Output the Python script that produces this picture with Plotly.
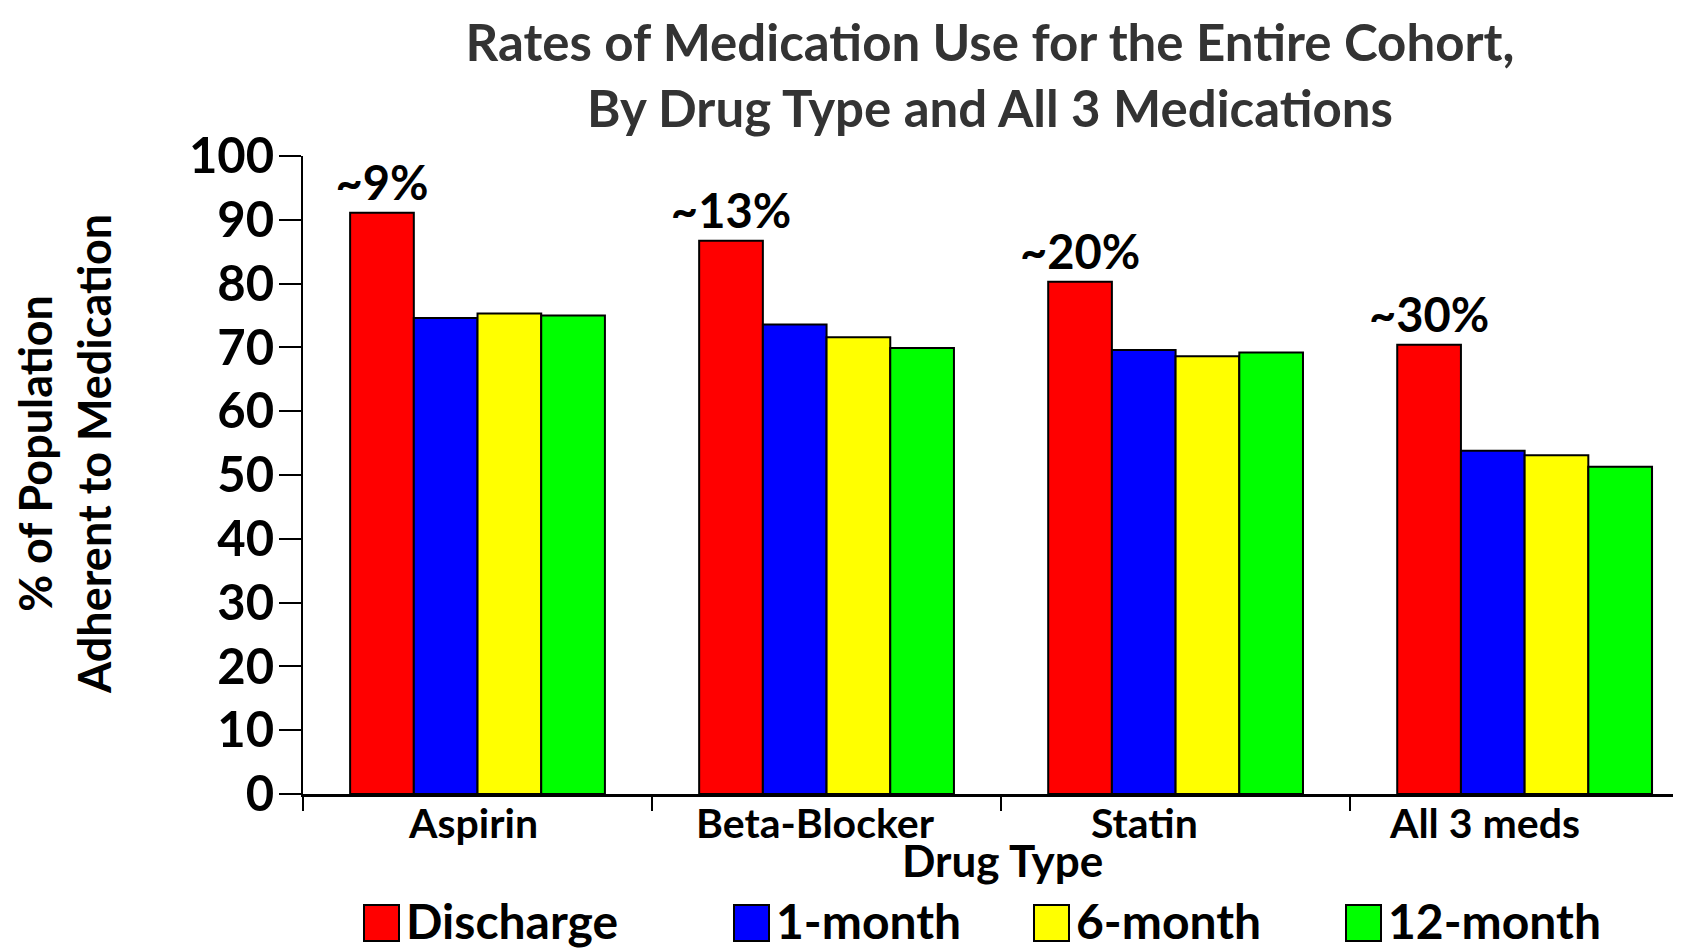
import plotly.graph_objects as go

# ── Data ─────────────────────────────────────────────────────
categories = ["Aspirin", "Beta-Blocker", "Statin", "All 3 meds"]
discharge = [91.1, 86.7, 80.3, 70.4]
month_1 = [74.6, 73.6, 69.6, 53.8]
month_6 = [75.3, 71.6, 68.6, 53.1]
month_12 = [75.0, 69.9, 69.2, 51.3]
drop_labels = ["~9%", "~13%", "~20%", "~30%"]
series_names = ["Discharge", "1-month", "6-month", "12-month"]
y_ticks = list(range(0, 101, 10))

colors = ["#ff0000", "#0000ff", "#ffff00", "#00ff00"]
FONT = "Lato, 'Open Sans', sans-serif"

# the page has an 8px body margin; positions below are page pixels
OFF = 8
W, H = 1681 - OFF, 950 - OFF
L, R, T, B = 303 - OFF, 1681 - OFF, 156 - OFF, 794 - OFF


def px_x(x):
    return (x - OFF - L) / (R - L)


def px_y(y):
    return (B - (y - OFF)) / (B - T)


fig = go.Figure()
for name, vals, col in zip(series_names, [discharge, month_1, month_6, month_12], colors):
    is_first = name == series_names[0]
    fig.add_trace(go.Bar(
        x=categories, y=vals, name=name,
        marker=dict(color=col, line=dict(color="black", width=2)),
        text=drop_labels if is_first else None,
        textposition="outside" if is_first else "none",
        textfont=dict(family=FONT, size=47, color="black", weight="bold"),
        constraintext="none",
        cliponaxis=False,
        showlegend=False,
    ))

shapes = []
annotations = []

# category labels (the original sits them a little left of centre)
label_shift = [-5, -11, -31, -40]
for cat, dx in zip(categories, label_shift):
    annotations.append(dict(
        text=cat, x=cat, xref="x", yref="paper", y=px_y(822),
        xshift=dx, xanchor="center", yanchor="middle", showarrow=False,
        font=dict(family=FONT, size=41, color="black", weight="bold"),
    ))

# ── Manual legend with large swatches ────────────────────────
legend_left = [364, 734, 1034, 1346]
for name, col, x0 in zip(series_names, colors, legend_left):
    shapes.append(dict(
        type="rect", xref="paper", yref="paper",
        x0=px_x(x0), x1=px_x(x0 + 35), y0=px_y(941), y1=px_y(905),
        fillcolor=col, line=dict(color="black", width=2),
    ))
    annotations.append(dict(
        text=name, xref="paper", yref="paper",
        x=px_x(x0 + 40), y=px_y(920), xanchor="left", yanchor="middle",
        showarrow=False, font=dict(family=FONT, size=48, color="black", weight="bold"),
    ))

# axis titles
annotations.append(dict(
    text="Drug Type", xref="paper", yref="paper",
    x=px_x(1002), y=px_y(860), xanchor="center", yanchor="middle",
    showarrow=False, font=dict(family=FONT, size=44, color="black", weight="bold"),
))
annotations.append(dict(
    text="% of Population<br>Adherent to Medication", xref="paper", yref="paper",
    x=px_x(64), y=px_y(454), xanchor="center", yanchor="middle", textangle=-90,
    showarrow=False, font=dict(family=FONT, size=45, color="black", weight="bold"),
))

fig.update_layout(
    width=W, height=H,
    margin=dict(l=L, r=W - R, t=T, b=H - B),
    paper_bgcolor="white", plot_bgcolor="white",
    barmode="group", bargap=0.27, bargroupgap=0,
    title=dict(
        text="Rates of Medication Use for the Entire Cohort,<br>By Drug Type and All 3 Medications",
        x=(990 - OFF) / W, xanchor="center", y=1 - (61 - OFF) / H, yanchor="middle",
        font=dict(family=FONT, size=51, color="#333333", weight="bold"),
    ),
    shapes=shapes,
    annotations=annotations,
    xaxis=dict(
        range=[-0.5, 3.448], showline=True, linecolor="black", linewidth=3,
        ticks="outside", tickson="boundaries", ticklen=14, tickwidth=2, tickcolor="black",
        showticklabels=False, showgrid=False, zeroline=False,
    ),
    yaxis=dict(
        range=[0, 100], tickvals=y_ticks, showline=True, linecolor="black", linewidth=2,
        ticks="outside", ticklen=22, tickwidth=2, tickcolor="black",
        ticklabelstandoff=-5,
        tickfont=dict(family=FONT, size=49, color="black", weight="bold"),
        showgrid=False, zeroline=False,
    ),
)

fig.write_html("out.html")
